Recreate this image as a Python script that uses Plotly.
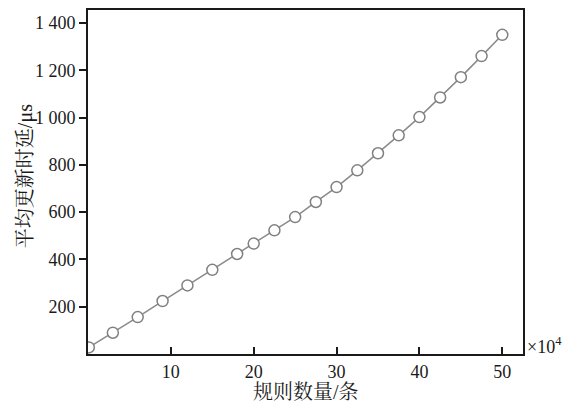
import plotly.graph_objects as go

# Number of rules (x10^4) and mean update latency (μs)
rules = [0.1, 3, 6, 9, 12, 15, 18, 20, 22.5, 25, 27.5, 30, 32.5, 35, 37.5, 40, 42.5, 45, 47.5, 50]
latency = [28, 90, 156, 224, 290, 356, 423, 467, 523, 579, 643, 706, 777, 849, 925, 1002, 1085, 1171, 1260, 1350]

x_ticks = [10, 20, 30, 40, 50]
y_ticks = [200, 400, 600, 800, 1000, 1200, 1400]
y_tick_text = ["200", "400", "600", "800", "1 000", "1 200", "1 400"]

x_title = "规则数量/条"
y_title = "平均更新时延/μs"

serif = "Liberation Serif, Times New Roman, Noto Serif CJK SC, Noto Sans CJK SC, serif"
ink = "#1a1a1a"

fig = go.Figure(
    go.Scatter(
        x=rules,
        y=latency,
        mode="lines+markers",
        line=dict(color="#8a8a8a", width=1.5),
        marker=dict(symbol="circle", size=11, color="white",
                    line=dict(color="#808080", width=1.5)),
        showlegend=False,
    )
)

axis_common = dict(
    showline=True, linecolor=ink, linewidth=2, mirror=True,
    showgrid=False, zeroline=False, automargin=False,
    tickcolor=ink, tickwidth=1.5, ticklen=7,
    tickfont=dict(family=serif, size=18, color=ink),
)

fig.update_xaxes(range=[0, 52.5], tickvals=x_ticks, ticks="inside", **axis_common)
fig.update_yaxes(range=[0, 1455], tickvals=y_ticks, ticktext=y_tick_text,
                 ticks="outside", **axis_common)

title_font = dict(family=serif, size=20, color=ink)

# Axis titles placed relative to the plot area
fig.add_annotation(
    x=0.5, y=0, xref="paper", yref="paper", xanchor="center", yanchor="middle",
    yshift=-38, showarrow=False, text=x_title, font=title_font,
)
fig.add_annotation(
    x=0, y=0.517, xref="paper", yref="paper", xanchor="center", yanchor="middle",
    xshift=-63, showarrow=False, text=y_title, textangle=-90, font=title_font,
)

# Scale factor for the x axis
fig.add_annotation(
    x=1, y=0, xref="paper", yref="paper", xanchor="left", yanchor="bottom",
    xshift=2, yshift=-5, showarrow=False, text="×10<sup>4</sup>",
    font=dict(family=serif, size=18, color=ink),
)

fig.update_layout(
    width=571, height=404,
    margin=dict(l=88, r=48, t=10, b=50),
    paper_bgcolor="white", plot_bgcolor="white",
)

fig.write_html("out.html")
